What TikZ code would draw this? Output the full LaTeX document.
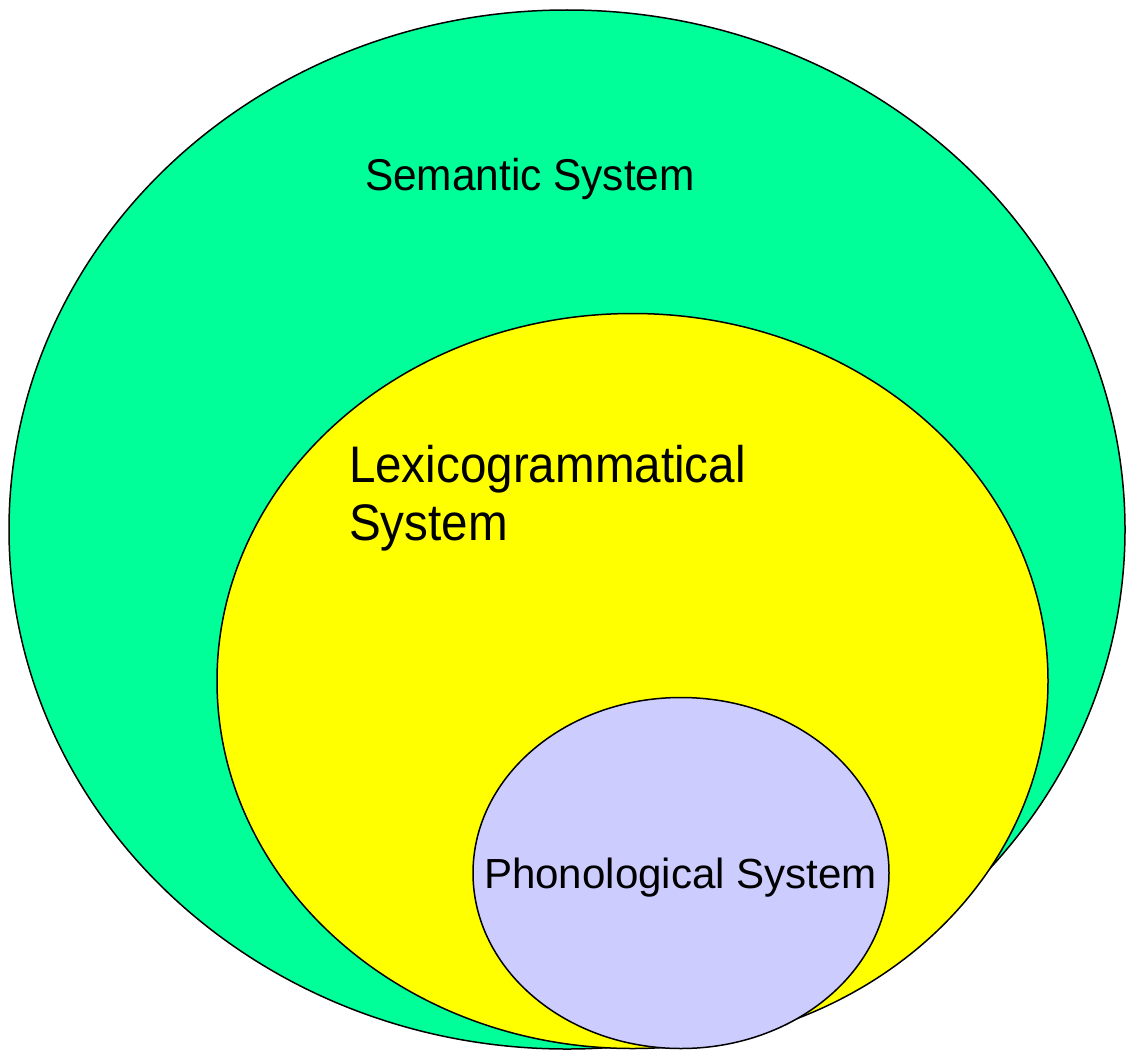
\documentclass[tikz,border=0pt]{standalone}
\usepackage{fontspec}
\setmainfont{Liberation Sans}
\definecolor{semgreen}{RGB}{0,255,153}
\definecolor{lexyellow}{RGB}{255,255,0}
\definecolor{phonpurple}{RGB}{204,204,255}
\tikzset{
  sysshape/.style={draw=black, line width=1.5pt},
  syslabel/.style={inner sep=0pt, outer sep=0pt, anchor=base west, text=black}
}
\begin{document}
\begin{tikzpicture}[x=1pt, y=-1pt]
\useasboundingbox (0,0) rectangle (1126,1049);
\draw[sysshape, fill=semgreen] (567,529.5) ellipse [x radius=558, y radius=519.5];
\draw[sysshape, fill=lexyellow] (632.5,681) ellipse [x radius=415.5, y radius=367.5];
\draw[sysshape, fill=phonpurple] (681,873) ellipse [x radius=208, y radius=175.5];
\node[syslabel] (sem) at (365,190) {\fontsize{42.4}{50}\selectfont\scalebox{1}[1.05]{Semantic System}};
\node[syslabel] (lex1) at (349,482) {\fontsize{47.6}{56}\selectfont\scalebox{1}[1.08]{Lexicogrammatical}};
\node[syslabel] (lex2) at (349,540) {\fontsize{47.6}{56}\selectfont\scalebox{1}[1.08]{System}};
\node[syslabel] (phon) at (484,888) {\fontsize{42.1}{50}\selectfont Phonological System};
\end{tikzpicture}
\end{document}
